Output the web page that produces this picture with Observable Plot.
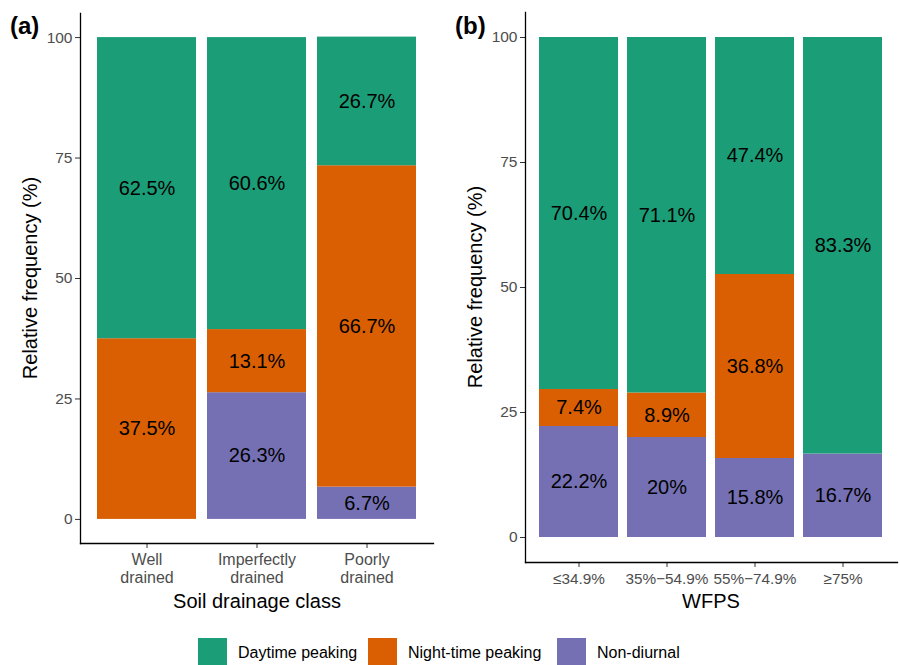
<!DOCTYPE html>
<html>
<head>
<meta charset="utf-8">
<script src="https://cdn.jsdelivr.net/npm/d3@7"></script>
<script src="https://cdn.jsdelivr.net/npm/@observablehq/plot@0.6"></script>
<style>
  html, body { margin: 0; padding: 0; background: #fff; }
  #root { position: relative; width: 900px; height: 665px; overflow: hidden; font-family: "Liberation Sans", Arial, sans-serif; }
  .panel { position: absolute; top: 0; }
  .panel svg { overflow: visible; }
  .panel g[aria-label$="tick label"] { fill: #4d4d4d; }
  .lbl { position: absolute; color: #000; white-space: nowrap; }
  .tag { position: absolute; font-weight: bold; font-size: 24px; }
  .ytitle { position: absolute; font-size: 20px; transform: translate(-50%, -50%) rotate(-90deg); white-space: nowrap; }
  .xtitle { position: absolute; font-size: 20px; transform: translate(-50%, -50%); white-space: nowrap; }
  .sw { position: absolute; width: 29px; height: 29px; top: 638px; }
  .lt { position: absolute; font-size: 16px; top: 644px; }
</style>
</head>
<body>
<div id="root"></div>
<script>
// ---- data ----
const types = ["Daytime peaking", "Night-time peaking", "Non-diurnal"];
const colors = ["#1b9e77", "#d95f02", "#7570b3"];

const drainage = ["Well\ndrained", "Imperfectly\ndrained", "Poorly\ndrained"];
const drainDay = [62.5, 60.6, 26.7];
const drainNight = [37.5, 13.1, 66.7];
const drainNon = [0, 26.3, 6.7];

const wfps = ["≤34.9%", "35%−54.9%", "55%−74.9%", "≥75%"];
const wfpsDay = [70.4, 71.1, 47.4, 83.3];
const wfpsNight = [7.4, 8.9, 36.8, 0];
const wfpsNon = [22.2, 20, 15.8, 16.7];

const yTicks = [0, 25, 50, 75, 100];

function rows(cats, day, night, non) {
  const out = [];
  // stacking order: Non-diurnal at bottom, then Night-time, then Daytime on top
  cats.forEach((c, i) => out.push({cat: c, type: types[2], value: non[i]}));
  cats.forEach((c, i) => out.push({cat: c, type: types[1], value: night[i]}));
  cats.forEach((c, i) => out.push({cat: c, type: types[0], value: day[i]}));
  return out;
}

function panel(cats, data, opts) {
  return Plot.plot({
    width: opts.width,
    height: opts.height,
    marginLeft: opts.ml,
    marginRight: opts.mr,
    marginTop: opts.mt,
    marginBottom: opts.mb,
    style: {fontFamily: '"Liberation Sans", Arial, sans-serif', background: "transparent"},
    x: {domain: cats, paddingInner: 0.1, paddingOuter: 0.15, label: null},
    y: {domain: [-5, 105], label: null},
    color: {domain: types, range: colors},
    marks: [
      Plot.barY(data, Plot.stackY({x: "cat", y: "value", z: "type", fill: "type", order: null})),
      Plot.text(data, Plot.stackY({
        x: "cat", y: "value", z: "type", order: null,
        text: d => d.value > 0 ? d.value + "%" : "",
        fontSize: 20, fill: "#000"
      })),
      Plot.axisY({ticks: yTicks, tickSize: 5, tickPadding: 3, fontSize: 15.5, stroke: "#333", label: null}),
      Plot.axisX({tickSize: 5, tickPadding: opts.tp, fontSize: opts.xfs, lineHeight: 1.1, stroke: "#333", label: null}),
      Plot.frame({anchor: "left", stroke: "#000", strokeWidth: 1.3}),
      Plot.frame({anchor: "bottom", stroke: "#000", strokeWidth: 1.3})
    ]
  });
}

const root = document.getElementById("root");

const pa = document.createElement("div");
pa.className = "panel";
pa.style.left = "0px";
pa.appendChild(panel(drainage, rows(drainage, drainDay, drainNight, drainNon),
  {width: 440, height: 612, ml: 80, mr: 7, mt: 13, mb: 69, tp: 4, xfs: 16}));
root.appendChild(pa);

const pb = document.createElement("div");
pb.className = "panel";
pb.style.left = "445px";
pb.appendChild(panel(wfps, rows(wfps, wfpsDay, wfpsNight, wfpsNon),
  {width: 455, height: 612, ml: 80, mr: 3, mt: 12, mb: 50, tp: 5, xfs: 15.3}));
root.appendChild(pb);

function addText(cls, txt, left, top) {
  const d = document.createElement("div");
  d.className = cls;
  d.textContent = txt;
  d.style.left = left + "px";
  d.style.top = top + "px";
  root.appendChild(d);
  return d;
}

addText("tag", "(a)", 10, 12);
addText("tag", "(b)", 455, 12);
addText("ytitle", "Relative frequency (%)", 30, 278);
addText("ytitle", "Relative frequency (%)", 475, 287);
addText("xtitle", "Soil drainage class", 257, 601);
addText("xtitle", "WFPS", 711, 601);

// legend
const swX = [198, 368, 557];
const txX = [238, 408, 597];
types.forEach((t, i) => {
  const s = document.createElement("div");
  s.className = "sw";
  s.style.left = swX[i] + "px";
  s.style.background = colors[i];
  root.appendChild(s);
  addText("lt", t, txX[i], 644);
});
</script>
</body>
</html>
